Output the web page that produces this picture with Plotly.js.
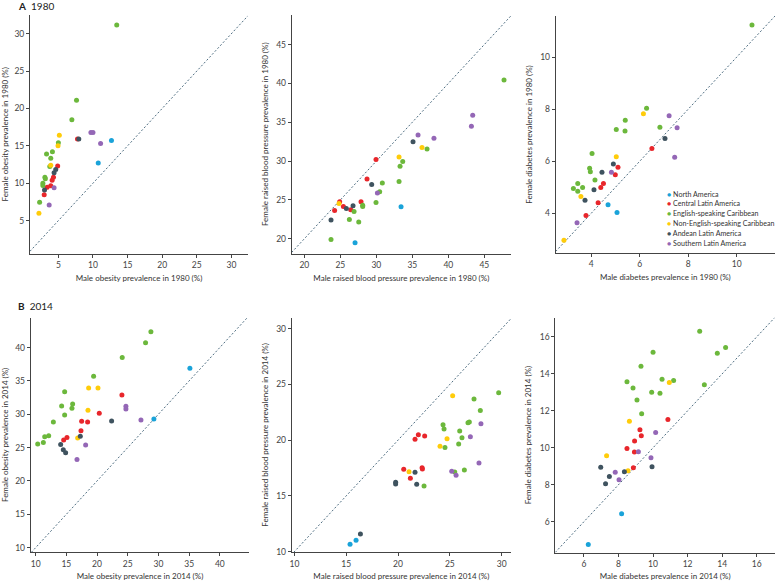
<!DOCTYPE html>
<html>
<head>
<meta charset="utf-8">
<script src="https://cdn.plot.ly/plotly-3.0.1.min.js"></script>
<style>html,body{margin:0;padding:0;background:#fff;}#chart{width:775px;height:581px;}</style>
</head>
<body>
<div id="chart"></div>
<script>
// Regions: 0 North America, 1 Central Latin America, 2 English-speaking Caribbean,
// 3 Non-English-speaking Caribbean, 4 Andean Latin America, 5 Southern Latin America
const regionNames = ['North America','Central Latin America','English-speaking Caribbean','Non-English-speaking Caribbean','Andean Latin America','Southern Latin America'];
const regionColors = ['#1aa3d9','#e8262b','#6cb83c','#ffcc0a','#3f535f','#9467b6'];

// Panel A1: obesity 1980
const obesity1980Male   = [12.67,10.76, 7.76,4.9,4.29,4.1,3.9,3.38,2.95, 13.43,7.62,6.95,5.0,4.14,3.29,3.9,3.76,3.05,3.12,2.76,2.76,2.29, 5.14,4.95,3.9,2.19, 7.95,4.62,4.38,3.0, 9.7,10.0,11.1,4.38,3.67];
const obesity1980Female = [15.7,12.7, 15.9,12.3,10.8,10.4,9.65,9.45,8.45, 31.16,21.1,18.5,15.4,14.2,13.9,13.35,12.25,10.8,10.6,10.0,9.7,7.44, 16.4,15.0,12.4,5.98, 15.9,11.85,11.4,9.1, 16.8,16.8,15.3,9.4,7.1];
const obesity1980Region = [0,0, 1,1,1,1,1,1,1, 2,2,2,2,2,2,2,2,2,2,2,2,2, 3,3,3,3, 4,4,4,4, 5,5,5,5,5];

// Panel A2: raised blood pressure 1980
const bp1980Male   = [33.43,27.04, 29.95,28.7,27.87,25.42,26.44,24.2,24.9, 47.73,33.66,33.29,37.04,33.15,30.83,30.46,29.95,28.1,28.1,26.9,26.25,27.55,23.7, 33.15,36.34,24.81, 35.09,29.35,26.76,25.83,23.7, 43.38,43.2,35.79,38.0,30.14];
const bp1980Female = [24.11,19.49, 30.19,27.7,24.75,24.15,23.72,23.64,24.75, 40.42,29.93,29.33,31.56,27.36,27.19,26.04,24.67,24.32,24.15,23.5,22.48,22.14,19.9, 30.53,31.73,24.54, 32.5,26.98,24.24,23.9,22.4, 35.88,34.47,33.36,32.93,25.9];
const bp1980Region = [0,0, 1,1,1,1,1,1,1, 2,2,2,2,2,2,2,2,2,2,2,2,2,2, 3,3,3, 4,4,4,4,4, 5,5,5,5,5];

// Panel A3: diabetes 1980
const diabetes1980Male   = [4.69,5.06, 6.5,5.1,4.99,4.5,4.39,4.28,3.78, 10.63,6.28,5.4,5.03,5.39,6.83,4.03,3.93,3.96,4.15,3.44,3.64,3.26,3.44, 6.15,5.03,3.57,2.87, 7.04,4.91,4.44,4.11,3.74, 7.21,7.54,7.44,4.83,3.41];
const diabetes1980Female = [4.32,4.03, 6.49,5.77,5.48,5.14,4.99,4.4,3.91, 11.23,8.03,7.57,7.22,7.16,7.3,6.29,5.73,5.59,5.28,5.14,4.99,4.95,4.84, 7.82,6.17,4.64,2.96, 6.87,5.89,5.57,4.9,4.5, 7.75,7.28,6.15,5.57,3.63];
const diabetes1980Region = [0,0, 1,1,1,1,1,1,1, 2,2,2,2,2,2,2,2,2,2,2,2,2,2, 3,3,3,3, 4,4,4,4,4, 5,5,5,5,5];

// Panel B1: obesity 2014
const obesity2014Male   = [35.12,29.26, 24.05,20.36,17.49,18.46,17.38,15.1,14.56, 28.77,27.9,24.1,19.44,14.72,14.23,16.02,15.91,14.72,12.88,12.12,11.47,11.25,10.33, 18.63,20.15,18.52,16.84, 22.37,17.27,14.07,14.5,14.88, 24.7,24.7,27.15,18.14,16.73];
const obesity2014Female = [36.89,29.28, 32.88,30.13,28.93,28.83,27.53,26.52,26.12, 42.35,40.7,38.5,35.69,33.38,31.23,31.53,30.88,29.88,28.83,26.78,26.62,25.77,25.52, 33.94,33.94,30.58,26.42, 28.98,26.68,25.47,24.67,24.22, 31.18,30.78,29.13,25.37,23.22];
const obesity2014Region = [0,0, 1,1,1,1,1,1,1, 2,2,2,2,2,2,2,2,2,2,2,2,2,2, 3,3,3,3, 4,4,4,4,4, 5,5,5,5,5];

// Panel B2: raised blood pressure 2014
const bp2014Male   = [15.95,15.37, 21.96,21.64,22.57,20.55,22.32,22.35,21.19, 29.71,27.33,27.94,26.88,26.75,24.34,24.44,25.95,26.17,25.85,24.53,26.4,25.47,22.51, 25.27,24.73,24.05,21.06, 21.64,19.77,19.77,21.8,16.37, 28.0,26.98,27.81,25.18,25.6];
const bp2014Female = [11.02,10.66, 20.49,20.07,20.37,17.38,17.53,17.41,16.58, 24.26,23.69,22.65,21.63,21.57,21.39,21.0,20.82,20.22,19.66,19.33,17.32,17.15,15.89, 23.99,20.13,19.45,17.17, 17.12,16.22,16.07,16.04,11.58, 21.48,20.31,17.95,17.2,16.85];
const bp2014Region = [0,0, 1,1,1,1,1,1,1, 2,2,2,2,2,2,2,2,2,2,2,2,2,2, 3,3,3,3, 4,4,4,4,4, 5,5,5,5,5];

// Panel B3: diabetes 2014
const diabetes2014Male   = [8.18,6.25, 10.86,9.24,9.32,8.93,8.49,8.92,8.86, 12.7,14.2,13.72,10.0,9.3,8.49,10.52,11.19,8.84,9.92,10.4,12.97,9.07,9.34, 10.94,8.63,7.31,8.55, 6.97,7.47,7.25,8.34,9.94, 10.15,9.15,9.88,7.81,8.03];
const diabetes2014Female = [6.43,4.77, 11.53,10.97,10.65,10.36,9.96,9.77,8.92, 16.31,15.42,15.12,15.17,14.41,13.57,13.71,13.64,13.24,13.01,12.95,13.41,12.59,11.84, 13.53,11.44,9.57,8.76, 8.94,8.45,8.05,8.7,8.97, 10.83,9.78,9.46,8.68,8.27];
const diabetes2014Region = [0,0, 1,1,1,1,1,1,1, 2,2,2,2,2,2,2,2,2,2,2,2,2,2, 3,3,3,3, 4,4,4,4,4, 5,5,5,5,5];

const xTitles = ['Male obesity prevalence in 1980 (%)','Male raised blood pressure prevalence in 1980 (%)','Male diabetes prevalence in 1980 (%)',
                 'Male obesity prevalence in 2014 (%)','Male raised blood pressure prevalence in 2014 (%)','Male diabetes prevalence in 2014 (%)'];
const yTitles = ['Female obesity prevalence in 1980 (%)','Female raised blood pressure prevalence in 1980 (%)','Female diabetes prevalence in 1980 (%)',
                 'Female obesity prevalence in 2014 (%)','Female raised blood pressure prevalence in 2014 (%)','Female diabetes prevalence in 2014 (%)'];

const panels = [
  {m: obesity1980Male, f: obesity1980Female, r: obesity1980Region},
  {m: bp1980Male, f: bp1980Female, r: bp1980Region},
  {m: diabetes1980Male, f: diabetes1980Female, r: diabetes1980Region},
  {m: obesity2014Male, f: obesity2014Female, r: obesity2014Region},
  {m: bp2014Male, f: bp2014Female, r: bp2014Region},
  {m: diabetes2014Male, f: diabetes2014Female, r: diabetes2014Region}
];

// layout geometry (pixels)
const W = 775, H = 581;
const geom = [
  {x0: 30, x1: 248, y0: 15, y1: 253.5, xr: [0.9, 32.4], yr: [0.6, 32.5], dt: 5},
  {x0: 291.7, x1: 511, y0: 15, y1: 253.5, xr: [18.24, 48.7], yr: [18.1, 48.8], dt: 5},
  {x0: 555.7, x1: 775, y0: 16, y1: 253, xr: [2.53, 11.58], yr: [2.47, 11.58], dt: 2},
  {x0: 30.7, x1: 249.3, y0: 317.5, y1: 552.3, xr: [9.19, 44.8], yr: [9.3, 44.5], dt: 5},
  {x0: 291.7, x1: 511, y0: 317.5, y1: 552.3, xr: [9.74, 30.9], yr: [9.94, 31.0], dt: 5},
  {x0: 555.3, x1: 775, y0: 317.5, y1: 552.7, xr: [4.34, 17.06], yr: [4.32, 17.05], dt: 2}
];

const FONT = 'Lato, "Open Sans", sans-serif';
const traces = [];
const layout = {
  width: W, height: H,
  margin: {l: 0, r: 0, t: 0, b: 0},
  paper_bgcolor: '#fff', plot_bgcolor: '#fff',
  showlegend: false,
  font: {family: FONT, color: '#333', size: 8},
  shapes: [], annotations: []
};

panels.forEach((p, i) => {
  const n = i + 1;
  const xa = 'x' + (n === 1 ? '' : n), ya = 'y' + (n === 1 ? '' : n);
  const g = geom[i];
  for (let k = 0; k < regionNames.length; k++) {
    const xs = [], ys = [];
    p.r.forEach((rr, j) => { if (rr === k) { xs.push(p.m[j]); ys.push(p.f[j]); } });
    traces.push({
      type: 'scatter', mode: 'markers', x: xs, y: ys, name: regionNames[k],
      xaxis: xa, yaxis: ya, hoverinfo: 'x+y+name',
      marker: {color: regionColors[k], size: 5, line: {width: 0}}
    });
  }
  const axCommon = {
    showgrid: false, zeroline: false, showline: true, linecolor: '#444', linewidth: 1,
    ticks: 'outside', ticklen: 3, tickwidth: 1, tickcolor: '#444',
    tickfont: {family: FONT, size: 8.5, color: '#444'}, dtick: g.dt, tick0: 0,
    automargin: false, fixedrange: true
  };
  layout['xaxis' + (n === 1 ? '' : n)] = Object.assign({}, axCommon, {
    domain: [g.x0 / W, g.x1 / W], range: g.xr, anchor: ya,
    title: {text: xTitles[i], font: {family: FONT, size: 8, color: '#333'}, standoff: 6}
  });
  layout['yaxis' + (n === 1 ? '' : n)] = Object.assign({}, axCommon, {
    domain: [1 - g.y1 / H, 1 - g.y0 / H], range: g.yr, anchor: xa,
    title: {text: yTitles[i], font: {family: FONT, size: 8, color: '#333'}, standoff: 6}
  });
  const lo = Math.max(g.xr[0], g.yr[0]), hi = Math.min(g.xr[1], g.yr[1]);
  layout.shapes.push({
    type: 'line', xref: xa, yref: ya, x0: lo, y0: lo, x1: hi, y1: hi,
    line: {color: '#4e6d80', width: 1, dash: '2px,2px'}, layer: 'below'
  });
});

// panel labels
layout.annotations.push(
  {xref: 'paper', yref: 'paper', x: 16 / W, y: 1 - 6 / H, xanchor: 'left', yanchor: 'middle', showarrow: false,
   text: '<b>A</b>  1980', font: {family: FONT, size: 10, color: '#222'}},
  {xref: 'paper', yref: 'paper', x: 16 / W, y: 1 - 305.5 / H, xanchor: 'left', yanchor: 'middle', showarrow: false,
   text: '<b>B</b>  2014', font: {family: FONT, size: 10, color: '#222'}}
);

// legend (drawn in panel A3)
regionNames.forEach((nm, k) => {
  layout.annotations.push({
    xref: 'paper', yref: 'paper', x: 665 / W, y: 1 - (194 + 9.9 * k) / H,
    xanchor: 'left', yanchor: 'middle', showarrow: false,
    text: '<span style="color:' + regionColors[k] + '">●</span> ' + nm,
    font: {family: FONT, size: 7.1, color: '#333'}
  });
});

Plotly.newPlot('chart', traces, layout, {displayModeBar: false, staticPlot: true});
</script>
</body>
</html>
